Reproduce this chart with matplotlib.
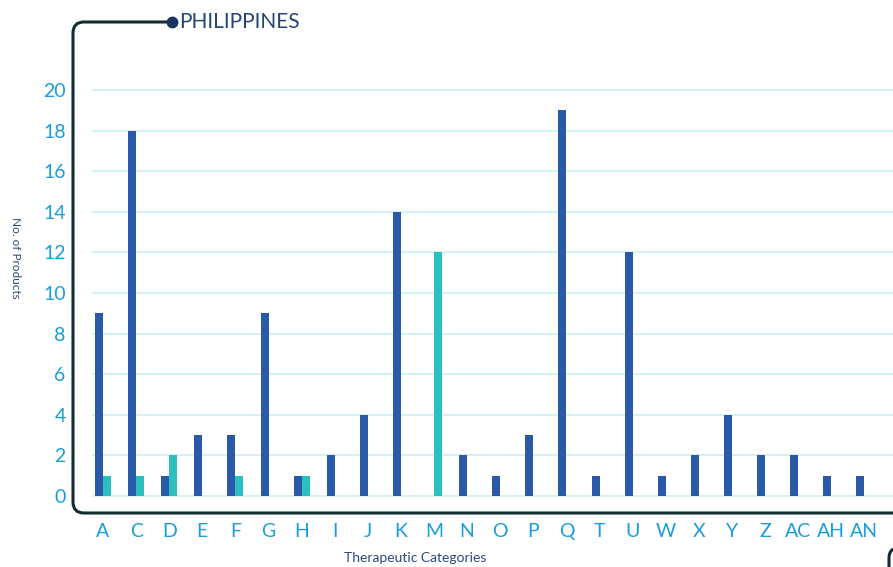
import numpy as np
import matplotlib
matplotlib.use("Agg")
import matplotlib.pyplot as plt
from matplotlib.path import Path
from matplotlib.patches import PathPatch

plt.rcParams['font.family'] = ['Lato', 'DejaVu Sans']

categories = ['A', 'C', 'D', 'E', 'F', 'G', 'H', 'I', 'J', 'K', 'M', 'N',
              'O', 'P', 'Q', 'T', 'U', 'W', 'X', 'Y', 'Z', 'AC', 'AH', 'AN']
series_dark = [9, 18, 1, 3, 3, 9, 1, 2, 4, 14, 0, 2,
               1, 3, 19, 1, 12, 1, 2, 4, 2, 2, 1, 1]
series_teal = [1, 1, 2, 0, 1, 0, 1, 0, 0, 0, 12, 0,
               0, 0, 0, 0, 0, 0, 0, 0, 0, 0, 0, 0]
yticks = list(range(0, 21, 2))

W, H = 893, 567
fig = plt.figure(figsize=(W / 100, H / 100), dpi=100)

# background layer in pixel coordinates for the frame and title
bg = fig.add_axes([0, 0, 1, 1])
bg.set_xlim(0, W)
bg.set_ylim(H, 0)
bg.axis('off')

frame_col = '#0f2c30'
r = 11
verts = [(172, 22), (73 + r, 22), (73, 22), (73, 22 + r),
         (73, 513 - r), (73, 513), (73 + r, 513), (W + 5, 513)]
codes = [Path.MOVETO, Path.LINETO, Path.CURVE3, Path.CURVE3,
         Path.LINETO, Path.CURVE3, Path.CURVE3, Path.LINETO]
bg.add_patch(PathPatch(Path(verts, codes), fill=False, lw=2.2,
                       edgecolor=frame_col, capstyle='round'))
# corner of the next panel peeking in
verts2 = [(893, 549), (889, 552), (889, 558), (889, 570)]
codes2 = [Path.MOVETO, Path.CURVE3, Path.CURVE3, Path.LINETO]
bg.add_patch(PathPatch(Path(verts2, codes2), fill=False, lw=2.2, edgecolor=frame_col))
bg.plot([172], [22], marker='o', ms=7.5, color='#1a3461')
bg.text(179, 22, 'PHILIPPINES', fontsize=15, color='#24457a', va='center', ha='left')

bg.text(15, 258, 'No. of Products', fontsize=8.5, color='#2b4a7a', rotation=-90,
        ha='center', va='center')
bg.text(415, 558, 'Therapeutic Categories', fontsize=10, color='#2b4a7a',
        ha='center', va='center')

# main bar chart
x0, step = 103, 33.1
ylo, yhi = -0.3, 20.3
upp = 2 / 40.6
ax_left = 92
ax_right = W
ax_bottom = 496 + (0 - ylo) / upp
ax_top = 90 - (yhi - 20) / upp
ax = fig.add_axes([ax_left / W, 1 - ax_bottom / H,
                   (ax_right - ax_left) / W, (ax_bottom - ax_top) / H])
ax.patch.set_alpha(0)

x = np.arange(len(categories))
bw = 8 / step
ax.bar(x - bw / 2, series_dark, width=bw, color='#2a5aa7', zorder=3)
ax.bar(x + bw / 2, series_teal, width=bw, color='#2cbfbf', zorder=3)

ax.set_xlim((ax_left - x0) / step, (ax_right - x0) / step)
ax.set_ylim(ylo, yhi)
ax.set_yticks(yticks)
ax.grid(axis='y', color='#c8eef0', lw=1.1, zorder=0)
for s in ax.spines.values():
    s.set_visible(False)
ax.tick_params(axis='both', length=0, labelcolor='#1a9ddc', labelsize=14)
ax.tick_params(axis='y', pad=19)
ax.set_xticks(x)
ax.set_xticklabels(categories)
ax.tick_params(axis='x', pad=15)

fig.savefig('out.png', dpi=100)
